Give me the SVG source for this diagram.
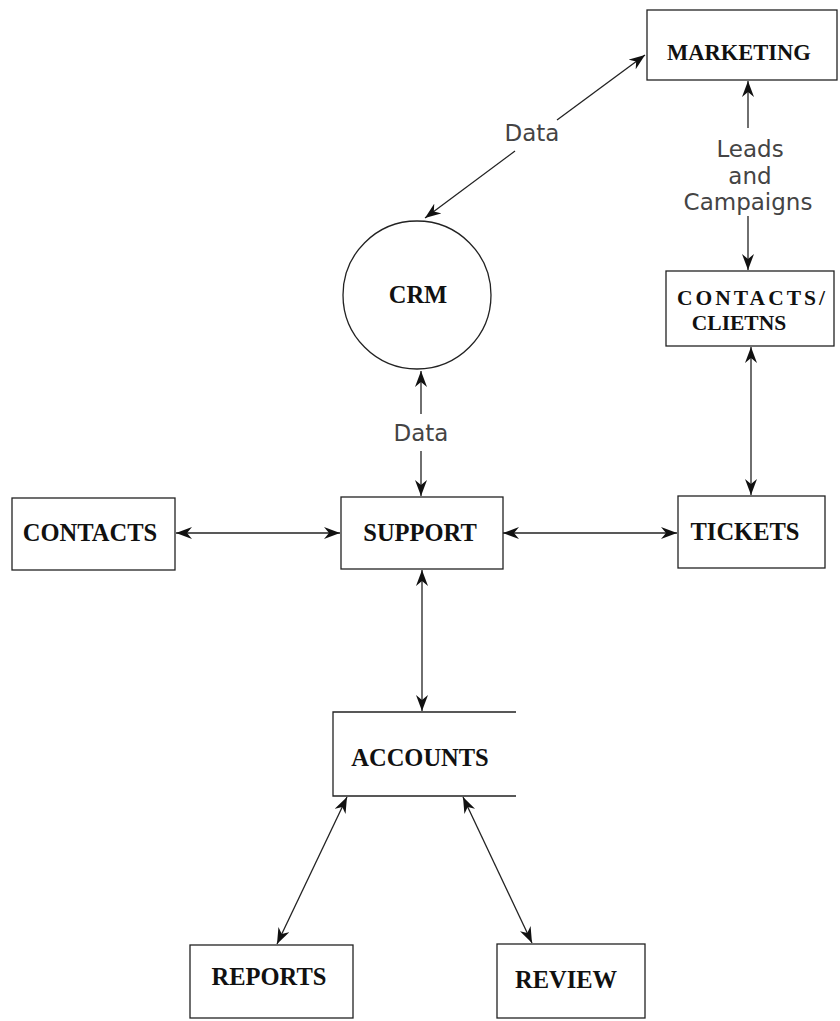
<svg xmlns="http://www.w3.org/2000/svg" width="840" height="1021" viewBox="0 0 840 1021">
<style>
.box{fill:#fff;stroke:#222;stroke-width:1.3}
.nt{font-family:"Liberation Serif","Times New Roman",serif;font-weight:bold;font-size:24.5px;fill:#111;text-anchor:middle}
.lbl{font-family:"DejaVu Sans","Liberation Sans",sans-serif;font-size:23px;fill:#444;text-anchor:middle}
.cn{stroke:#222;stroke-width:1.3;fill:none}
.both{marker-start:url(#ah);marker-end:url(#ah)}
.s{marker-start:url(#ah)}
.e{marker-end:url(#ah)}
</style>
<defs>
<marker id="ah" markerUnits="userSpaceOnUse" viewBox="0 0 16 12" refX="16" refY="6" markerWidth="16" markerHeight="12" orient="auto-start-reverse">
<path d="M0,0 L16,6 L0,12 L5,6 Z" fill="#111"/>
</marker>
</defs>
<rect width="840" height="1021" fill="#fff"/>

<g id="connectors">
<line class="cn s" x1="425" y1="218" x2="515" y2="151"/>
<line class="cn e" x1="557" y1="120" x2="645" y2="55"/>
<line class="cn s" x1="748" y1="81" x2="748" y2="128"/>
<line class="cn e" x1="748" y1="216" x2="748" y2="270"/>
<line class="cn s" x1="421" y1="371" x2="421" y2="414"/>
<line class="cn e" x1="421" y1="451" x2="421" y2="496"/>
<line class="cn both" x1="751" y1="347" x2="751" y2="495"/>
<line class="cn both" x1="176" y1="533" x2="340" y2="533"/>
<line class="cn both" x1="503" y1="533" x2="677" y2="533"/>
<line class="cn both" x1="422" y1="570" x2="422" y2="711"/>
<line class="cn both" x1="347" y1="797" x2="277" y2="944"/>
<line class="cn both" x1="463" y1="797" x2="532" y2="943"/>
<text class="lbl" x="532" y="141">Data</text>
<text class="lbl" x="750" y="157">Leads</text>
<text class="lbl" x="750" y="184">and</text>
<text class="lbl" x="748" y="210">Campaigns</text>
<text class="lbl" x="421" y="441">Data</text>
</g>

<g id="marketing">
<rect class="box" x="647" y="10" width="190" height="70"/>
<text class="nt" x="739" y="60" style="font-size:22.5px">MARKETING</text>
</g>

<g id="crm">
<circle class="box" cx="417" cy="295" r="74"/>
<text class="nt" x="418" y="303">CRM</text>
</g>

<g id="contacts-clients">
<rect class="box" x="666" y="271" width="168" height="75"/>
<text class="nt" x="751" y="305" style="font-size:21.5px" textLength="148" lengthAdjust="spacing">CONTACTS/</text>
<text class="nt" x="739" y="330" style="font-size:21.5px">CLIETNS</text>
</g>

<g id="contacts">
<rect class="box" x="12" y="498" width="163" height="72"/>
<text class="nt" x="90" y="541">CONTACTS</text>
</g>

<g id="support">
<rect class="box" x="341" y="497" width="162" height="72"/>
<text class="nt" x="420" y="541">SUPPORT</text>
</g>

<g id="tickets">
<rect class="box" x="678" y="496" width="147" height="72"/>
<text class="nt" x="745" y="540">TICKETS</text>
</g>

<g id="accounts">
<path class="box" d="M516,712 L333,712 L333,796 L516,796"/>
<text class="nt" x="420" y="766">ACCOUNTS</text>
</g>

<g id="reports">
<rect class="box" x="190" y="945" width="163" height="73"/>
<text class="nt" x="269" y="985">REPORTS</text>
</g>

<g id="review">
<rect class="box" x="497" y="944" width="148" height="74"/>
<text class="nt" x="566" y="988">REVIEW</text>
</g>
</svg>
